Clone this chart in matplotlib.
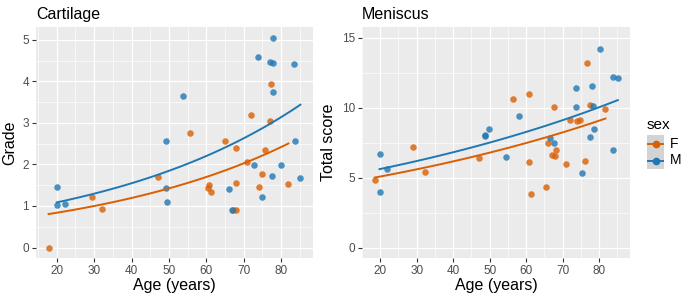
import numpy as np
import matplotlib.pyplot as plt

# Cartilage grade by age and sex
cart_age_f = [17.8, 29.3, 32.0, 47.2, 55.7, 60.6, 60.7, 61.3, 65.1, 67.1, 67.9,
              67.9, 68.0, 71.0, 71.9, 74.1, 74.9, 75.8, 77.1, 77.2, 82.0]
cart_grade_f = [0.0, 1.21, 0.93, 1.70, 2.75, 1.43, 1.50, 1.33, 2.56, 0.90, 0.90,
                2.40, 1.55, 2.05, 3.19, 1.45, 1.77, 2.34, 3.05, 3.95, 1.53]
cart_age_m = [20.0, 20.1, 22.3, 49.1, 49.2, 49.6, 53.8, 66.2, 67.0, 72.9, 73.8,
              74.8, 77.0, 77.8, 77.8, 77.8, 77.5, 80.1, 83.5, 83.7, 85.2]
cart_grade_m = [1.02, 1.45, 1.04, 2.56, 1.43, 1.09, 3.66, 1.41, 0.90, 1.99, 4.59,
                1.21, 4.47, 4.45, 5.06, 3.75, 1.73, 1.99, 4.42, 2.57, 1.68]

# Meniscus total score by age and sex
men_age_f = [18.5, 28.9, 32.3, 47.1, 56.5, 60.7, 60.8, 61.2, 65.5, 66.0, 67.0,
             67.7, 68.0, 68.2, 70.8, 71.9, 73.9, 74.8, 76.1, 76.6, 77.4, 81.7]
men_score_f = [4.82, 7.19, 5.36, 6.41, 10.59, 10.97, 6.08, 3.85, 4.32, 7.43, 6.62,
               10.06, 6.57, 6.98, 5.96, 9.11, 9.07, 9.14, 6.19, 13.17, 10.21, 9.87]
men_age_m = [19.8, 20.0, 21.8, 48.7, 48.7, 49.9, 54.4, 58.0, 66.4, 67.5, 73.5,
             73.6, 75.4, 77.4, 78.1, 78.4, 78.5, 80.2, 83.8, 83.9, 85.1]
men_score_m = [3.99, 6.69, 5.63, 8.02, 7.95, 8.45, 6.50, 9.42, 7.81, 7.43, 10.02,
               11.37, 5.34, 7.88, 11.51, 10.09, 8.50, 14.17, 6.93, 12.15, 12.08]

sexes = ["F", "M"]
ORANGE = "#D95F02"
BLUE = "#1F78B4"
colors = [ORANGE, BLUE]


def poisson_fit(age_f, y_f, age_m, y_m):
    """Log-link Poisson GLM, y ~ age + sex, fitted by IRLS."""
    age = np.r_[age_f, age_m]
    y = np.r_[y_f, y_m]
    sex = np.r_[np.zeros(len(age_f)), np.ones(len(age_m))]
    X = np.column_stack([np.ones_like(age), age, sex])
    beta = np.zeros(3)
    beta[0] = np.log(np.mean(y))
    for _ in range(50):
        mu = np.exp(X @ beta)
        z = X @ beta + (y - mu) / mu
        W = mu
        beta = np.linalg.solve(X.T @ (X * W[:, None]), X.T @ (W * z))
    return beta


def draw_panel(ax, title, ylabel, age_f, y_f, age_m, y_m, ylim=None):
    ax.set_facecolor("#EBEBEB")
    beta = poisson_fit(age_f, y_f, age_m, y_m)
    for ages, ys, col, s in [(age_f, y_f, ORANGE, 0), (age_m, y_m, BLUE, 1)]:
        ax.scatter(ages, ys, s=22, color=col, alpha=0.8, linewidths=0, zorder=3)
        xs = np.linspace(min(ages), max(ages), 100)
        ax.plot(xs, np.exp(beta[0] + beta[1] * xs + beta[2] * s), color=col, lw=1.4, zorder=4)

    all_age = np.r_[age_f, age_m]
    lo, hi = all_age.min(), all_age.max()
    pad = 0.05 * (hi - lo)
    ax.set_xlim(lo - pad, hi + pad)
    if ylim is None:
        all_y = np.r_[y_f, y_m]
        ylim = (all_y.min(), all_y.max())
    pad = 0.05 * (ylim[1] - ylim[0])
    ax.set_ylim(ylim[0] - pad, ylim[1] + pad)

    ax.set_xticks([20, 30, 40, 50, 60, 70, 80])
    ax.set_xticks(np.arange(15, 90, 5), minor=True)
    ax.grid(True, which="major", color="white", lw=0.9)
    ax.grid(True, which="minor", color="white", lw=0.45)
    ax.set_axisbelow(True)
    for sp in ax.spines.values():
        sp.set_visible(False)
    ax.tick_params(which="major", length=3, color="#333333", labelcolor="#4D4D4D",
                   labelsize=8.5, pad=2)
    ax.tick_params(which="minor", length=0)
    ax.set_xlabel("Age (years)", fontsize=11.5, labelpad=1)
    ax.set_ylabel(ylabel, fontsize=11.5, labelpad=4)
    ax.set_title(title, loc="left", fontsize=11.5, pad=6)


plt.rcParams["font.family"] = ["Liberation Sans", "DejaVu Sans"]

fig = plt.figure(figsize=(6.92, 3.0), dpi=100)
ax1 = fig.add_axes([36 / 692, 42 / 300, 277 / 692, 231 / 300])
ax2 = fig.add_axes([362 / 692, 42 / 300, 268 / 692, 231 / 300])

draw_panel(ax1, "Cartilage", "Grade", cart_age_f, cart_grade_f, cart_age_m, cart_grade_m)
ax1.set_yticks([0, 1, 2, 3, 4, 5])
ax1.set_yticks([0.5, 1.5, 2.5, 3.5, 4.5], minor=True)

draw_panel(ax2, "Meniscus", "Total score", men_age_f, men_score_f, men_age_m, men_score_m,
           ylim=(0, 15))
ax2.set_yticks([0, 5, 10, 15])
ax2.set_yticks([2.5, 7.5, 12.5], minor=True)

# legend, drawn in its own pixel-coordinate axes
lax = fig.add_axes([0, 0, 1, 1])
lax.set_xlim(0, 692)
lax.set_ylim(300, 0)
lax.axis("off")
lax.text(647, 125, "sex", fontsize=11, va="center", ha="left")
lax.add_patch(plt.Rectangle((647, 135), 17, 34, facecolor="#D3D3D3", edgecolor="none"))
for i, (lab, col) in enumerate(zip(sexes, colors)):
    yc = 143.5 + i * 17
    lax.plot([648, 663], [yc, yc], color=col, lw=1.4)
    lax.plot([655.5], [yc], "o", color=col, markersize=4.5)
    lax.text(670, yc, lab, fontsize=10, va="center", ha="left")

fig.savefig("out.png", dpi=100)
